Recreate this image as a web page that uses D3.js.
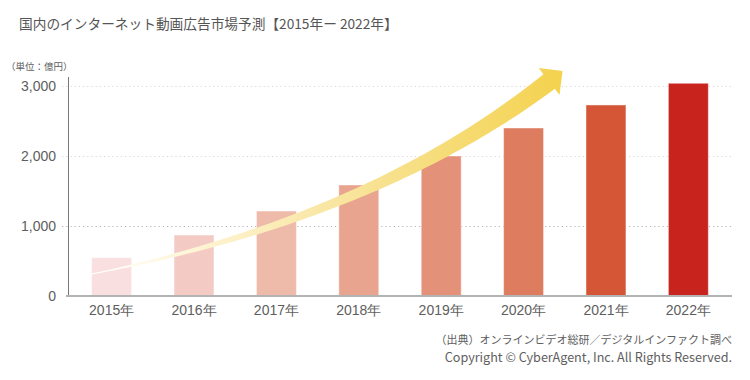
<!DOCTYPE html>
<html>
<head>
<meta charset="utf-8">
<script src="https://cdn.jsdelivr.net/npm/d3@7"></script>
<style>
  body { margin: 0; background: #fff; }
  svg { display: block; font-family: "Noto Sans CJK JP", "Noto Sans", sans-serif; }
  .ejes text { fill: #5e5e5e; font-size: 14px; }
  .ejes .domain { display: none; }
</style>
</head>
<body>
<div id="graf"></div>
<script>
// datos
const years = ["2015", "2016", "2017", "2018", "2019", "2020", "2021", "2022"]
const values = [547, 871, 1214, 1586, 2000, 2400, 2729, 3039]
const barColors = ["#f9dfe0", "#f4cbc4", "#eebaa9", "#e8a48e", "#e39178", "#de7c5f", "#d45637", "#c9231e"]
const yTicks = [0, 1000, 2000, 3000]
// flecha de tendencia en (indice de año, valor)
const arrowFrom = [-0.24, 314]
const arrowCtrl = [3.17, 1117]
const arrowTo = [5.31, 3064]

const titulo = "国内のインターネット動画広告市場予測【2015年ー 2022年】"
const unidad = "（単位：億円）"
const fuente = "（出典）オンラインビデオ総研／デジタルインファクト調べ"
const copyright = "Copyright © CyberAgent, Inc. All Rights Reserved."

const anchoTotal = 750
const altoTotal = 380

const svg = d3.select("#graf")
  .append("svg")
  .attr("width", anchoTotal)
  .attr("height", altoTotal)

const x = d3.scaleBand()
  .domain(years)
  .range([70, 730])
  .paddingInner(0.515)
  .paddingOuter(0.263)

const y = d3.scaleLinear().domain([0, 3000]).range([296, 86])

// indice -> centro de la barra
const xi = d3.scaleLinear()
  .domain([0, years.length - 1])
  .range([x(years[0]) + x.bandwidth() / 2, x(years[years.length - 1]) + x.bandwidth() / 2])

// gradiente de la flecha
const defs = svg.append("defs")
const grad = defs.append("linearGradient")
  .attr("id", "flecha")
  .attr("gradientUnits", "userSpaceOnUse")
  .attr("x1", xi(arrowFrom[0])).attr("y1", 0)
  .attr("x2", xi(arrowTo[0]) + 14).attr("y2", 0)
grad.append("stop").attr("offset", 0).attr("stop-color", "#ffffff")
grad.append("stop").attr("offset", 0.25).attr("stop-color", "#fdf3cf")
grad.append("stop").attr("offset", 0.5).attr("stop-color", "#f9e6a3")
grad.append("stop").attr("offset", 0.75).attr("stop-color", "#f6dc78")
grad.append("stop").attr("offset", 1).attr("stop-color", "#f4d24e")

// titulo
svg.append("text")
  .attr("x", 19)
  .attr("y", 29)
  .attr("fill", "#555")
  .style("font-size", "13.7px")
  .text(titulo)

svg.append("text")
  .attr("x", 6)
  .attr("y", 70)
  .attr("fill", "#5e5e5e")
  .style("font-size", "9.5px")
  .text(unidad)

// eje y con lineas de guia
const yAxis = d3.axisLeft(y)
  .tickValues(yTicks)
  .tickFormat(d3.format(","))
  .tickSizeInner(-(732 - 62))
  .tickSizeOuter(0)
  .tickPadding(6)

const gy = svg.append("g")
  .attr("class", "ejes")
  .attr("transform", "translate(62, 0)")
  .call(yAxis)

gy.selectAll(".tick line")
  .attr("stroke", (d) => (d === 1000 ? "#b5b5b5" : "#d8d8d8"))
  .attr("stroke-dasharray", "1.2,3")
  .attr("display", (d) => (d === 0 ? "none" : null))

// barras
svg.selectAll("rect.barra")
  .data(years)
  .enter()
  .append("rect")
  .attr("class", "barra")
  .attr("x", (d) => x(d))
  .attr("y", (d, i) => y(values[i]))
  .attr("width", x.bandwidth())
  .attr("height", (d, i) => y(0) - y(values[i]))
  .attr("fill", (d, i) => barColors[i])
  .attr("stroke", "rgba(255,255,255,0.45)")
  .attr("stroke-width", 1)

// eje vertical y linea base
svg.append("line")
  .attr("x1", 68.5).attr("x2", 68.5)
  .attr("y1", 77).attr("y2", y(0))
  .attr("stroke", "#777")
  .attr("stroke-width", 1)

svg.append("line")
  .attr("x1", 66).attr("x2", 732)
  .attr("y1", y(0)).attr("y2", y(0))
  .attr("stroke", "#b3b3b3")
  .attr("stroke-width", 2)

// eje x
const xAxis = d3.axisBottom(x).tickSize(0).tickPadding(9).tickFormat((d) => d + "年")
svg.append("g")
  .attr("class", "ejes")
  .attr("transform", `translate(0, ${y(0)})`)
  .call(xAxis)

// flecha curva
const P0 = [xi(arrowFrom[0]), y(arrowFrom[1])]
const P1 = [xi(arrowCtrl[0]), y(arrowCtrl[1])]
const P2 = [xi(arrowTo[0]), y(arrowTo[1])]

const bez = (t) => [
  (1 - t) * (1 - t) * P0[0] + 2 * t * (1 - t) * P1[0] + t * t * P2[0],
  (1 - t) * (1 - t) * P0[1] + 2 * t * (1 - t) * P1[1] + t * t * P2[1]
]
const tang = (t) => {
  const dx = 2 * (1 - t) * (P1[0] - P0[0]) + 2 * t * (P2[0] - P1[0])
  const dy = 2 * (1 - t) * (P1[1] - P0[1]) + 2 * t * (P2[1] - P1[1])
  const l = Math.hypot(dx, dy)
  return [dx / l, dy / l]
}

const n = 80
const izq = []
const der = []
for (let k = 0; k <= n; k++) {
  const t = k / n
  const p = bez(t)
  const d = tang(t)
  const nx = d[1], ny = -d[0]
  const w = (1 + 17.5 * t) / 2
  izq.push([p[0] + nx * w, p[1] + ny * w])
  der.push([p[0] - nx * w, p[1] - ny * w])
}
const dEnd = tang(1)
const nEnd = [dEnd[1], -dEnd[0]]
const head = 17
const punta = [
  [P2[0] + nEnd[0] * head, P2[1] + nEnd[1] * head],
  [P2[0] + dEnd[0] * 17, P2[1] + dEnd[1] * 17],
  [P2[0] - nEnd[0] * head, P2[1] - nEnd[1] * head]
]
const poly = izq.concat(punta, der.reverse())

svg.append("path")
  .attr("d", d3.line()(poly) + "Z")
  .attr("fill", "url(#flecha)")

// fuente
svg.append("text")
  .attr("x", 732)
  .attr("y", 344)
  .attr("text-anchor", "end")
  .attr("fill", "#5e5e5e")
  .style("font-size", "11px")
  .text(fuente)

svg.append("text")
  .attr("x", 732)
  .attr("y", 362)
  .attr("text-anchor", "end")
  .attr("fill", "#5e5e5e")
  .style("font-size", "12.6px")
  .text(copyright)
</script>
</body>
</html>
